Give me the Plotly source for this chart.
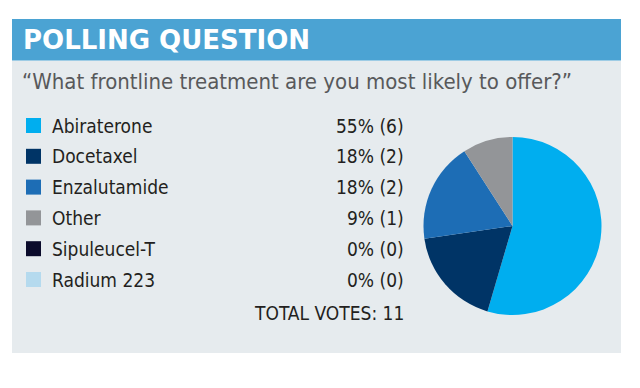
import plotly.graph_objects as go

title = "POLLING QUESTION"
question = "\u201cWhat frontline treatment are you most likely to offer?\u201d"
categories = ["Abiraterone", "Docetaxel", "Enzalutamide", "Other", "Sipuleucel-T", "Radium 223"]
votes = [6, 2, 2, 1, 0, 0]
percents = [55, 18, 18, 9, 0, 0]
colors = ["#00AEEF", "#003466", "#1D6DB5", "#939598", "#0B0B2B", "#B5DAEE"]
total_label = "TOTAL VOTES: 11"

# page body has an 8px margin; figure sized to fit in the window
OFF = 8
W, H = 632, 380
FONT = "Liberation Sans Narrow, DejaVu Sans Condensed, Arial Narrow, sans-serif"

def px(x):
    return (x - OFF) / W

def py(y):
    return 1 - (y - OFF) / H

fig = go.Figure()

cx, cy, r = 512.5, 226, 89
fig.add_trace(go.Pie(
    labels=categories, values=votes, sort=False, direction="clockwise", rotation=0,
    marker=dict(colors=colors, line=dict(width=0)),
    textinfo="none", hoverinfo="label+percent", showlegend=False,
    domain=dict(x=[px(cx - r), px(cx + r)], y=[py(cy + r), py(cy - r)]),
))

shapes = [
    dict(type="rect", xref="paper", yref="paper", x0=px(12), x1=px(621), y0=py(353), y1=py(60.5),
         fillcolor="#E6EBEE", line=dict(width=0), layer="below"),
    dict(type="rect", xref="paper", yref="paper", x0=px(12), x1=px(621), y0=py(60.5), y1=py(19),
         fillcolor="#4BA3D3", line=dict(width=0), layer="below"),
]
annotations = [
    dict(text="<b>" + title + "</b>", x=px(21), y=py(40), xref="paper", yref="paper",
         xanchor="left", yanchor="middle", showarrow=False,
         font=dict(family="DejaVu Sans, sans-serif", size=26, color="white")),
    dict(text=question, x=px(20), y=py(81), xref="paper", yref="paper",
         xanchor="left", yanchor="middle", showarrow=False,
         font=dict(family=FONT, size=22, color="#58595B")),
]

row_y0, row_step = 125.5, 30.8
for i, (cat, p, v, c) in enumerate(zip(categories, percents, votes, colors)):
    y = row_y0 + i * row_step
    shapes.append(dict(type="rect", xref="paper", yref="paper", x0=px(26), x1=px(41),
                       y0=py(y + 7.5), y1=py(y - 7.5), fillcolor=c, line=dict(width=0)))
    annotations.append(dict(text=cat, x=px(50), y=py(y), xref="paper", yref="paper",
                            xanchor="left", yanchor="middle", showarrow=False,
                            font=dict(family=FONT, size=19, color="#231F20")))
    annotations.append(dict(text=f"{p}% ({v})", x=px(406), y=py(y), xref="paper", yref="paper",
                            xanchor="right", yanchor="middle", showarrow=False,
                            font=dict(family=FONT, size=19, color="#231F20")))
annotations.append(dict(text=total_label, x=px(406), y=py(313), xref="paper", yref="paper",
                        xanchor="right", yanchor="middle", showarrow=False,
                        font=dict(family=FONT, size=19, color="#231F20")))

fig.update_layout(
    width=W, height=H, margin=dict(l=0, r=0, t=0, b=0),
    paper_bgcolor="white", plot_bgcolor="white",
    shapes=shapes, annotations=annotations, showlegend=False,
)
fig.write_html("out.html")
